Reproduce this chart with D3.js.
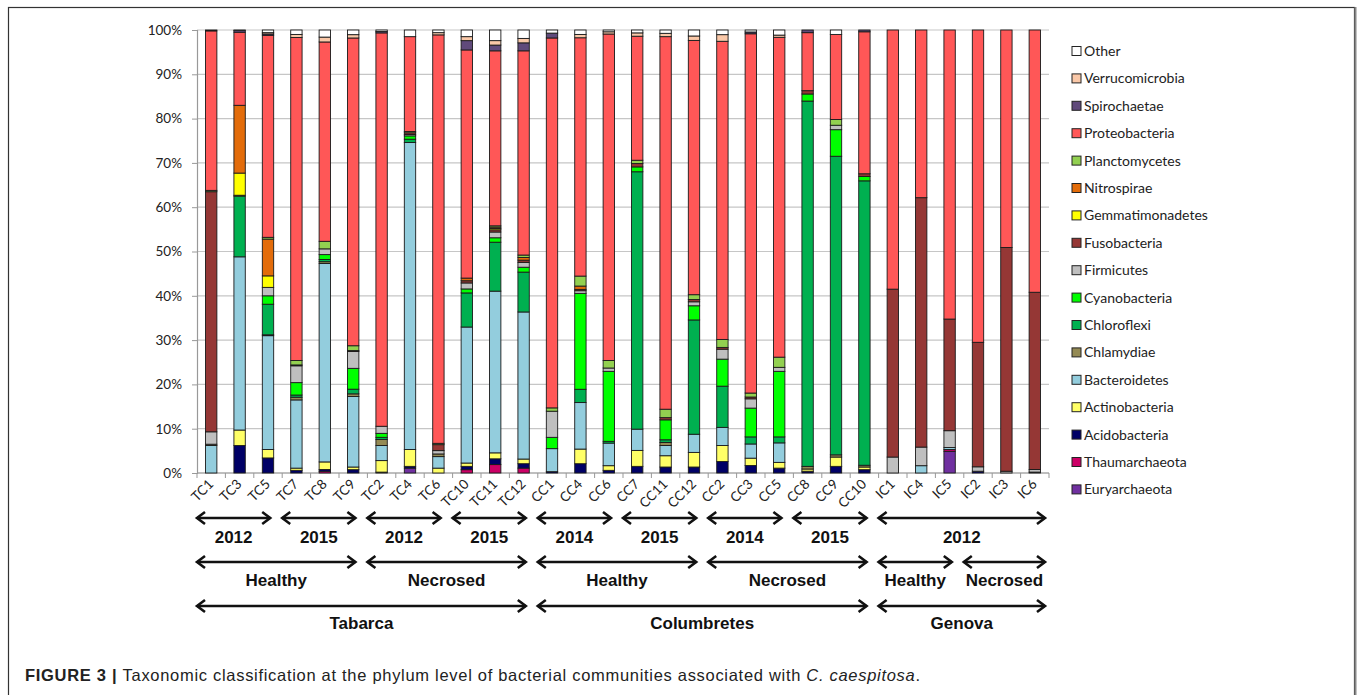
<!DOCTYPE html>
<html>
<head>
<meta charset="utf-8" />
<title>Phylum composition</title>
<style>
html, body {
    margin: 0px;
    padding: 0px;
    background: #fff;
}
svg {
    display: block;
}
</style>
</head>
<body>
<svg id="chart" width="1360" height="695"></svg>

<script src="https://cdn.jsdelivr.net/npm/d3@7"></script>
<script>
// samples in plotting order
var samples = ["TC1","TC3","TC5","TC7","TC8","TC9","TC2","TC4","TC6","TC10","TC11","TC12",
               "CC1","CC4","CC6","CC7","CC11","CC12","CC2","CC3","CC5","CC8","CC9","CC10",
               "IC1","IC4","IC5","IC2","IC3","IC6"]

// relative abundance (%) per phylum, one value per sample
var Euryarchaeota    = [0,0,0,0,0,0, 0,1.1,0,0,0,0, 0,0,0,0,0,0, 0,0,0,0,0,0, 0,0,4.9,0,0,0]
var Thaumarchaeota   = [0,0,0,0,0.4,0, 0,0,0,0.75,1.9,1.1, 0,0,0,0,0,0, 0,0,0,0,0,0, 0,0,0.4,0,0,0]
var Acidobacteria    = [0,6.2,3.4,0.6,0.4,0.75, 0.2,0.4,0,0.75,1.3,1.0, 0.3,2.1,0.6,1.5,1.35,1.35, 2.6,1.7,1.1,0.4,1.5,0.75, 0,0,0,0.4,0,0.2]
var Actinobacteria   = [0,3.5,1.9,0.5,1.7,0.6, 2.6,3.8,1.1,0.75,1.35,1.05, 0,3.3,1.05,3.6,2.55,3.3, 3.6,1.65,1.3,0.5,2.1,0.6, 0,0,0,0,0,0]
var Bacteroidetes    = [6.2,39.1,25.7,15.4,44.8,15.9, 3.4,69.3,2.6,30.7,36.5,33.2, 5.2,10.5,5.1,4.8,2.3,4.1, 4.1,3.2,4.4,0,0,0, 0,1.65,0.45,0,0,0]
var Chlamydiae       = [0.3,0,0.2,0.6,0.4,0.6, 1.35,0,0.6,0,0,0, 0,0,0,0,0.7,0, 0,0,0,0.6,0.5,0.4, 0,0,0,0,0,0]
var Chloroflexi      = [0,13.7,6.9,0.5,0.5,1.05, 0.5,0.75,0,7.7,11.05,9.0, 0,3.0,0.4,58.1,0.6,25.8, 9.3,1.6,1.35,82.5,67.4,64.2, 0,0,0,0,0,0]
var Cyanobacteria    = [0,0.2,1.9,2.8,1.1,4.7, 0.9,0.75,0,0.9,1.0,1.1, 2.55,21.65,15.8,1.1,4.5,3.2, 6.1,6.5,14.8,1.6,6.0,1.0, 0,0,0,0,0,0]
var Firmicutes       = [2.8,0,1.9,3.8,1.3,3.8, 1.6,0.3,0.75,1.35,1.3,1.1, 5.9,0.6,0.75,0,0,0.9, 2.25,2.1,0.9,0,1.0,0, 3.6,4.2,3.8,1.0,0.4,0.6]
var Fusobacteria     = [54.2,0,0,0.2,0,0.2, 0,0.4,1.35,0.5,0.5,0.5, 0,0.3,0,0.75,0.5,0.5, 0.4,0.4,0,0.75,0,0.6, 37.9,56.3,25.2,28.1,50.5,40.0]
var Gemmatimonadetes = [0,5.0,2.6,0,0,0, 0,0,0,0,0.3,0, 0,0,0,0,0,0, 0,0,0,0,0,0, 0,0,0,0,0,0]
var Nitrospirae      = [0,15.3,8.3,0,0,0, 0,0,0,0.6,0.3,0.6, 0,0.75,0,0,0,0, 0,0,0,0,0,0, 0,0,0,0,0,0]
var Planctomycetes   = [0.3,0,0.4,1.0,1.7,1.1, 0,0.3,0.3,0,0.3,0.55, 0.75,2.25,1.7,0.75,1.9,1.1, 1.8,0.9,2.3,0,1.3,0, 0,0,0,0,0,0]
var Proteobacteria   = [36.0,16.5,45.6,72.9,45.0,69.4, 88.8,21.4,92.2,51.5,39.5,46.1, 83.5,53.8,73.7,28.0,84.1,57.4, 67.3,81.1,72.2,13.1,19.2,32.05, 58.5,37.85,65.25,70.5,49.1,59.2]
var Spirochaetae     = [0,0.4,0.3,0,0,0, 0.3,0,0,2.1,1.3,1.8, 1.1,0,0,0,0,0, 0,0.4,0,0.6,0,0.4, 0,0,0,0,0,0]
var Verrucomicrobia  = [0,0,0.3,0.7,1.1,0.75, 0,0,0.5,0.9,1.0,1.0, 0,0.75,0.5,0.75,0.75,1.0, 1.5,0,0.5,0,0,0, 0,0,0,0,0,0]
var Other            = [0.2,0.1,0.6,1.0,1.6,1.05, 0.35,1.5,0.6,1.5,2.4,1.9, 0.7,1.0,0.4,0.65,0.75,1.35, 1.05,0.45,1.15,0,1.0,0, 0,0,0,0,0,0]

// stacking order, bottom to top
var phyla = ["Euryarchaeota","Thaumarchaeota","Acidobacteria","Actinobacteria","Bacteroidetes",
             "Chlamydiae","Chloroflexi","Cyanobacteria","Firmicutes","Fusobacteria",
             "Gemmatimonadetes","Nitrospirae","Planctomycetes","Proteobacteria",
             "Spirochaetae","Verrucomicrobia","Other"]
var series = [Euryarchaeota,Thaumarchaeota,Acidobacteria,Actinobacteria,Bacteroidetes,
              Chlamydiae,Chloroflexi,Cyanobacteria,Firmicutes,Fusobacteria,
              Gemmatimonadetes,Nitrospirae,Planctomycetes,Proteobacteria,
              Spirochaetae,Verrucomicrobia,Other]
var colors = ["#7030A0","#CC0066","#000066","#FFFF66","#93CDDD",
              "#948A54","#00B050","#00FF00","#BFBFBF","#953735",
              "#FFFF00","#E36C0A","#92D050","#FF5757",
              "#604A7B","#FAC8A8","#FFFFFF"]

var yTicks = [0,10,20,30,40,50,60,70,80,90,100]

// grouping rows under the axis: [label, first sample, last sample]
var yearGroups = [["2012","TC1","TC5"],["2015","TC7","TC9"],["2012","TC2","TC6"],["2015","TC10","TC12"],
                  ["2014","CC1","CC6"],["2015","CC7","CC12"],["2014","CC2","CC5"],["2015","CC8","CC10"],
                  ["2012","IC1","IC6"]]
var stateGroups = [["Healthy","TC1","TC9"],["Necrosed","TC2","TC12"],["Healthy","CC1","CC12"],
                   ["Necrosed","CC2","CC10"],["Healthy","IC1","IC5"],["Necrosed","IC2","IC6"]]
var siteGroups = [["Tabarca","TC1","TC12"],["Columbretes","CC1","CC10"],["Genova","IC1","IC6"]]

var svg = d3.select("#chart")
var margin = {top:30, left:197, bottom:222, right:311}
var width = 1360, height = 695
var calibri = "Lato, 'Open Sans', sans-serif"

// build rows, normalised to 100%
var rows = samples.map(function(s, i){
    var r = {sample:s}, tot = 0
    phyla.forEach(function(p, j){ tot += series[j][i] })
    phyla.forEach(function(p, j){ r[p] = series[j][i] / tot * 100 })
    return r
})
var stacked = d3.stack().keys(phyla)(rows)

var x = d3.scaleBand()
    .domain(samples)
    .range([margin.left, width-margin.right])
    .paddingInner(0.6)
    .paddingOuter(0.3)
var y = d3.scaleLinear()
    .domain([0, 100])
    .range([height-margin.bottom, margin.top])
var color = d3.scaleOrdinal().domain(phyla).range(colors)
var step = x.step()

// frame
svg.append("rect")
    .attr("x", 8.5).attr("y", 7.5)
    .attr("width", 1346).attr("height", 700)
    .attr("fill", "none").attr("stroke", "#333").attr("stroke-width", 1.2)
svg.append("line")
    .attr("x1", 1355.5).attr("x2", 1355.5).attr("y1", 7).attr("y2", 695)
    .attr("stroke", "#888").attr("stroke-width", 2)

// gridlines
svg.append("g")
    .selectAll("line")
    .data(yTicks)
    .join("line")
    .attr("x1", margin.left).attr("x2", width-margin.right)
    .attr("y1", function(d){ return y(d) }).attr("y2", function(d){ return y(d) })
    .attr("stroke", "#C6C6C6").attr("stroke-width", 1.2)

// y axis
var yAxis = svg.append("g")
    .attr("class", "y axis")
    .attr("transform", "translate("+[margin.left, 0]+")")
    .call(d3.axisLeft(y).tickValues(yTicks).tickSize(5).tickPadding(10).tickFormat(function(d){ return d+"%" }))
yAxis.select(".domain").attr("stroke", "#999").attr("stroke-width", 1.2)
yAxis.selectAll(".tick line").attr("stroke", "#999")
yAxis.selectAll("text").attr("font-family", calibri).attr("font-size", 13.5).attr("fill", "#222")

// x axis: ticks at band boundaries
var bounds = d3.range(samples.length+1).map(function(k){ return margin.left + k*step })
svg.append("line")
    .attr("x1", margin.left).attr("x2", width-margin.right)
    .attr("y1", y(0)).attr("y2", y(0))
    .attr("stroke", "#999").attr("stroke-width", 1.2)
svg.append("g")
    .selectAll("line")
    .data(bounds)
    .join("line")
    .attr("x1", function(d){ return d }).attr("x2", function(d){ return d })
    .attr("y1", y(0)).attr("y2", y(0)+5)
    .attr("stroke", "#999")

svg.append("g")
    .selectAll("text")
    .data(samples)
    .join("text")
    .attr("transform", function(d){ return "translate("+[x(d)+x.bandwidth()/2+3, y(0)+12]+") rotate(-45)" })
    .attr("text-anchor", "end")
    .attr("font-family", calibri)
    .attr("font-size", 13.5)
    .attr("fill", "#222")
    .text(function(d){ return d })

// bars
svg.append("g")
    .selectAll("g")
    .data(stacked)
    .join("g")
    .attr("fill", function(d){ return color(d.key) })
    .selectAll("rect")
    .data(function(d){ return d.filter(function(v){ return v[1]-v[0] > 0.01 }) })
    .join("rect")
    .attr("x", function(d){ return x(d.data.sample) })
    .attr("width", x.bandwidth())
    .attr("y", function(d){ return y(d[1]) })
    .attr("height", function(d){ return y(d[0]) - y(d[1]) })
    .attr("stroke", "#1a1a1a")
    .attr("stroke-width", 0.9)

// legend (top entry is last stacked)
var legend = svg.append("g")
    .selectAll("g")
    .data(phyla.slice().reverse())
    .join("g")
    .attr("transform", function(d, i){ return "translate("+[1072, 51 + i*27.4]+")" })
legend.append("rect")
    .attr("x", 0).attr("y", -4.5)
    .attr("width", 9).attr("height", 9)
    .attr("fill", function(d){ return color(d) })
    .attr("stroke", "#222").attr("stroke-width", 1)
legend.append("text")
    .attr("x", 12).attr("y", 0).attr("dy", "0.35em")
    .attr("font-family", calibri)
    .attr("font-size", 14)
    .attr("fill", "#222")
    .text(function(d){ return d })

// group arrows
var lastSample = samples[samples.length-1]
function drawArrows(groups, arrowY, textY, fontSize){
    var g = svg.append("g")
    groups.forEach(function(gr){
        var x0 = x(gr[1]) - step*0.3 - 1
        var x1 = x(gr[2]) + x.bandwidth() + step*0.3 - (gr[2] == lastSample ? 3 : 11)
        g.append("line")
            .attr("x1", x0+1).attr("x2", x1-1)
            .attr("y1", arrowY).attr("y2", arrowY)
            .attr("stroke", "#111").attr("stroke-width", 2.6)
        g.append("polyline")
            .attr("points", [[x0+9, arrowY-6],[x0+1, arrowY],[x0+9, arrowY+6]].join(" "))
            .attr("fill", "none").attr("stroke", "#111").attr("stroke-width", 2.6)
        g.append("polyline")
            .attr("points", [[x1-9, arrowY-6],[x1-1, arrowY],[x1-9, arrowY+6]].join(" "))
            .attr("fill", "none").attr("stroke", "#111").attr("stroke-width", 2.6)
        g.append("text")
            .attr("x", (x0+x1)/2).attr("y", textY)
            .attr("text-anchor", "middle")
            .attr("font-family", "'Liberation Sans', Arial, sans-serif")
            .attr("font-weight", "bold")
            .attr("font-size", fontSize)
            .attr("fill", "#111")
            .text(gr[0])
    })
}
drawArrows(yearGroups, 518, 543, 17)
drawArrows(stateGroups, 562, 586, 17)
drawArrows(siteGroups, 606, 629, 17)

// caption
var cap = svg.append("text")
    .attr("x", 25).attr("y", 681)
    .attr("font-family", "'Liberation Sans Narrow', 'Liberation Sans', Arial, sans-serif")
    .attr("font-size", 16.5)
    .attr("textLength", 895)
    .attr("lengthAdjust", "spacing")
    .attr("fill", "#222")
cap.append("tspan").attr("font-weight", "bold").text("FIGURE 3 | ")
cap.append("tspan").text("Taxonomic classification at the phylum level of bacterial communities associated with ")
cap.append("tspan").attr("font-style", "italic").text("C. caespitosa")
cap.append("tspan").text(".")
</script>
</body>
</html>
